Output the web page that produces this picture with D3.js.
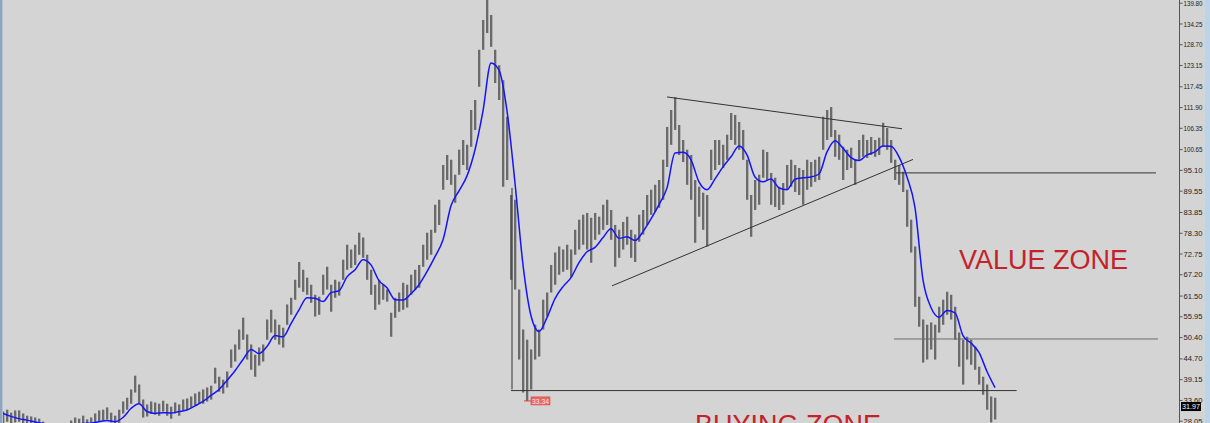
<!DOCTYPE html>
<html>
<head>
<meta charset="utf-8">
<script src="https://cdnjs.cloudflare.com/ajax/libs/d3/7.8.5/d3.min.js"></script>
<style>
  html, body { margin: 0; padding: 0; background: #d4d4d4; overflow: hidden; }
  svg { display: block; }
</style>
</head>
<body>
<svg id="chart" width="1210" height="423"></svg>
<script>
// --- weekly bars (high / low) ---
const highs = [
  30.5, 31.0, 30.2, 30.8, 30.8, 30.0, 29.4, 29.2, 28.9, 28.6,
  27.8, 27.3, 27.0, 26.8, 26.8, 27.0, 27.3, 28.1, 28.9, 28.6,
  29.4, 28.4, 28.9, 30.0, 30.8, 31.0, 31.6, 30.2, 29.4, 31.0,
  33.2, 34.2, 36.4, 40.1, 37.7, 33.7, 32.4, 33.2, 32.9, 32.6,
  33.4, 32.6, 31.8, 32.9, 32.4, 33.7, 34.0, 34.5, 35.3, 35.8,
  36.4, 36.9, 37.4, 42.2, 39.8, 39.0, 41.2, 47.1, 48.4, 52.4,
  55.6, 51.1, 48.4, 45.7, 47.6, 48.4, 55.1, 57.7, 55.1, 53.7,
  52.9, 59.1, 60.9, 65.7, 70.5, 68.4, 66.3, 64.4, 61.7, 61.2,
  67.1, 69.2, 64.4, 65.7, 65.2, 71.1, 75.1, 73.8, 75.1, 78.3,
  77.0, 72.4, 68.4, 64.4, 65.7, 64.4, 63.1, 56.9, 60.9, 62.3,
  64.9, 64.4, 67.1, 68.4, 69.7, 75.1, 78.3, 79.1, 85.8, 87.1,
  96.4, 99.1, 97.8, 93.8, 100.5, 103.1, 101.8, 111.1, 113.8, 127.2,
  135.2, 147.3, 136.5, 127.2, 123.1, 119.1, 109.3, 88.4, 87.1, 63.1,
  52.4, 49.7, 47.1, 53.7, 52.4, 60.4, 62.3, 69.7, 73.0, 74.6,
  73.8, 75.1, 73.8, 79.1, 81.8, 83.1, 83.6, 82.3, 83.6, 82.6,
  85.8, 87.1, 84.4, 80.4, 79.1, 81.2, 82.6, 79.1, 77.8, 83.1,
  84.4, 88.4, 89.8, 91.1, 92.4, 97.8, 106.6, 111.1, 114.6, 107.1,
  103.1, 100.5, 99.1, 92.4, 90.6, 89.0, 88.4, 100.5, 103.1, 103.1,
  101.8, 104.5, 110.3, 109.8, 107.9, 105.8, 97.8, 88.4, 92.4, 93.8,
  100.5, 99.9, 94.3, 93.0, 90.6, 91.6, 96.4, 97.8, 96.4, 95.6,
  95.1, 97.8, 97.2, 97.8, 98.6, 109.3, 111.1, 111.9, 105.8, 104.5,
  101.3, 100.5, 101.0, 97.8, 103.1, 104.5, 103.1, 103.9, 103.1, 103.7,
  107.7, 106.3, 103.1, 97.8, 96.4, 94.6, 89.8, 81.8, 74.6, 61.2,
  55.1, 53.7, 54.3, 53.7, 58.5, 60.4, 62.5, 61.7, 58.5, 51.6,
  49.7, 50.5, 49.7, 47.9, 42.5, 39.8, 37.7, 34.5, 34.2
];
const lows = [
  27.3, 27.8, 27.0, 27.6, 27.8, 27.0, 26.5, 26.2, 25.7, 25.7,
  25.2, 24.6, 24.4, 24.1, 24.1, 24.4, 24.6, 25.4, 26.2, 26.0,
  26.8, 25.7, 26.2, 27.3, 27.8, 28.1, 28.4, 27.6, 26.8, 27.3,
  30.0, 31.0, 32.6, 35.6, 32.6, 28.9, 29.2, 30.0, 29.7, 29.4,
  30.5, 29.4, 28.6, 30.0, 29.4, 30.8, 31.0, 31.6, 32.1, 32.6,
  32.6, 33.2, 33.7, 38.0, 35.8, 35.3, 36.9, 42.2, 43.9, 47.1,
  49.7, 44.4, 41.7, 39.8, 42.8, 43.9, 49.7, 51.6, 49.7, 48.4,
  47.6, 53.7, 56.4, 60.4, 63.6, 62.5, 61.7, 59.6, 55.9, 56.4,
  61.7, 63.1, 57.2, 60.9, 61.5, 65.7, 68.4, 68.9, 69.7, 72.4,
  71.6, 65.7, 61.7, 57.7, 59.1, 60.4, 59.9, 50.5, 55.6, 57.2,
  57.7, 58.3, 61.7, 63.1, 63.6, 69.2, 71.1, 72.4, 78.3, 80.4,
  89.8, 92.4, 91.1, 86.3, 93.8, 96.4, 95.1, 101.3, 105.8, 117.3,
  127.2, 131.7, 128.0, 118.3, 113.8, 90.6, 92.4, 65.7, 63.1, 44.4,
  35.6, 33.34, 36.4, 44.4, 45.2, 52.4, 55.9, 62.3, 64.4, 67.1,
  67.9, 68.4, 66.5, 72.4, 73.8, 75.1, 73.8, 70.3, 76.4, 77.8,
  79.1, 80.4, 76.4, 69.2, 71.6, 73.8, 75.1, 71.6, 70.5, 75.9,
  77.8, 80.4, 83.1, 83.9, 85.0, 87.1, 95.9, 101.8, 105.8, 99.1,
  97.2, 91.1, 87.1, 75.6, 82.6, 79.1, 74.6, 92.4, 95.1, 96.4,
  95.6, 97.8, 103.1, 101.8, 100.5, 97.8, 87.1, 77.2, 84.4, 85.8,
  93.0, 92.4, 85.8, 85.2, 84.4, 85.8, 89.8, 90.6, 89.2, 88.4,
  85.8, 89.8, 90.6, 91.9, 92.4, 100.5, 103.1, 103.9, 98.6, 97.8,
  92.4, 95.1, 95.6, 91.1, 97.8, 98.6, 98.3, 99.1, 98.6, 99.1,
  101.3, 100.5, 97.0, 92.4, 91.1, 89.2, 79.9, 73.0, 58.5, 53.2,
  43.6, 44.4, 47.1, 44.4, 51.6, 53.7, 56.4, 55.1, 49.7, 42.5,
  37.7, 44.4, 43.0, 41.7, 37.7, 35.0, 31.0, 27.6, 28.4
];

// moving average, one reading every 2nd bar
const ma = [
  30.0, 29.2, 28.6, 28.2, 27.7, 27.3, 26.9, 26.8, 26.8, 27.0,
  27.3, 27.4, 27.8, 28.1, 27.8, 28.9, 31.3, 32.6, 30.5, 30.0,
  30.2, 30.1, 30.5, 30.9, 32.0, 33.2, 34.8, 36.4, 38.8, 41.4,
  44.4, 47.1, 46.0, 47.9, 50.8, 50.5, 54.0, 57.7, 60.9, 60.8,
  59.9, 62.3, 62.8, 66.5, 68.4, 71.1, 69.7, 65.5, 63.6, 60.4,
  60.3, 62.0, 64.4, 67.9, 71.9, 76.4, 85.5, 89.5, 93.5, 100.5,
  110.9, 123.7, 121.8, 110.9, 91.6, 69.7, 56.1, 51.9, 55.6, 60.7,
  63.9, 66.3, 70.3, 73.2, 74.4, 77.0, 79.4, 76.8, 77.2, 76.2,
  78.6, 82.0, 85.8, 90.3, 99.6, 99.8, 97.8, 91.9, 89.8, 92.7,
  95.9, 98.6, 101.5, 99.1, 93.2, 91.9, 92.7, 90.3, 89.8, 92.6,
  93.0, 93.2, 94.0, 99.9, 102.9, 100.9, 98.4, 97.6, 99.1, 99.9,
  101.5, 101.4, 98.6, 93.2, 85.0, 65.7, 58.3, 55.7, 57.5, 56.9,
  50.8, 48.8, 46.3, 41.2, 36.9
];

// price axis
const tickVals = [139.80, 134.25, 128.70, 123.15, 117.45, 111.90, 106.35, 100.65,
  95.10, 89.55, 83.85, 78.30, 72.75, 67.20, 61.50, 55.95, 50.40, 44.70, 39.15, 33.60, 28.05];
const lastPrice = 31.97;
const lowBar = 131, lowPrice = 33.34;

// drawn objects: [bar0, price0, bar1, price1]
const trendLines = [
  [166, 114.6, 224.75, 106.1],
  [152.25, 64.1, 227.5, 97.9],
  [127, 36.1, 253.4, 36.1],
  [223.25, 94.3, 288.25, 94.3],
  [222.75, 49.9, 288.75, 49.9],
  [127.25, 90.3, 127.25, 36.4]
];
const zoneLabels = [
  { text: "VALUE ZONE", bar: 239, price: 68.6 },
  { text: "BUYING ZONE", bar: 173, price: 24.5 }
];

const W = 1210, H = 423, axisX = 1179.5;
const svg = d3.select("#chart");

svg.append("rect").attr("width", W).attr("height", H).attr("fill", "#d4d4d4");

const x = d3.scaleLinear().domain([0, highs.length - 1]).range([3, 995]);
const y = d3.scaleLinear().domain([28.05, 139.80]).range([420.7, 2.7]);

svg.append("clipPath").attr("id", "plot")
  .append("rect").attr("x", 3).attr("y", 0).attr("width", axisX - 3).attr("height", H);

const plot = svg.append("g").attr("clip-path", "url(#plot)");

// bars: a light grey halo under a thin dark core
function drawBars(color, width, opacity, dx) {
  plot.append("g")
    .selectAll("line")
    .data(highs)
    .join("line")
    .attr("x1", (d, i) => x(i) + dx)
    .attr("x2", (d, i) => x(i) + dx)
    .attr("y1", d => y(d))
    .attr("y2", (d, i) => y(lows[i]))
    .attr("stroke", color)
    .attr("stroke-width", width)
    .attr("stroke-opacity", opacity);
}
drawBars("#888", 3, 0.45, 0.5);
drawBars("#3c3c3c", 1.2, 1, 0);

// trend lines
plot.append("g")
  .selectAll("line")
  .data(trendLines)
  .join("line")
  .attr("x1", d => x(d[0]))
  .attr("y1", d => y(d[1]))
  .attr("x2", d => x(d[2]))
  .attr("y2", d => y(d[3]))
  .attr("stroke", (d, i) => (i === 4 ? "#6a6a6a" : "#333"))
  .attr("stroke-width", 1);

// moving average
const maLine = d3.line()
  .x((d, k) => x(k * 2))
  .y(d => y(d))
  .curve(d3.curveMonotoneX);
plot.append("path")
  .datum(ma)
  .attr("d", maLine)
  .attr("fill", "none")
  .attr("stroke", "#1414ff")
  .attr("stroke-width", 1.5);

// low price tag
const lx = x(lowBar), ly = y(lowPrice);
plot.append("line")
  .attr("x1", lx - 3).attr("x2", lx + 4)
  .attr("y1", ly).attr("y2", ly)
  .attr("stroke", "#e0403c");
plot.append("rect")
  .attr("x", lx + 4).attr("y", ly - 4)
  .attr("width", 19).attr("height", 8)
  .attr("fill", "#e46a66").attr("stroke", "#e0403c").attr("stroke-width", 0.6);
plot.append("text")
  .attr("x", lx + 5).attr("y", ly + 2.8)
  .attr("font-family", "Liberation Sans, Arial, sans-serif")
  .attr("font-size", 8)
  .attr("textLength", 17).attr("lengthAdjust", "spacingAndGlyphs")
  .attr("fill", "#ffe4e4")
  .text(d3.format(".2f")(lowPrice));

// zone labels
plot.append("g")
  .selectAll("text")
  .data(zoneLabels)
  .join("text")
  .attr("x", d => x(d.bar))
  .attr("y", d => y(d.price))
  .attr("font-family", "Liberation Sans, Arial, sans-serif")
  .attr("font-size", 27)
  .attr("fill", "#c3222a")
  .text(d => d.text);

// price axis
svg.append("line")
  .attr("x1", axisX).attr("x2", axisX)
  .attr("y1", 0).attr("y2", H)
  .attr("stroke", "#555");

const axis = svg.append("g")
  .attr("transform", `translate(${axisX},0)`)
  .call(d3.axisRight(y).tickValues(tickVals).tickSize(3).tickSizeOuter(0).tickFormat(d3.format(".2f")));
axis.select(".domain").remove();
axis.selectAll(".tick line").attr("stroke", "#555");
axis.selectAll(".tick text")
  .attr("x", 4)
  .attr("font-family", "Liberation Sans, Arial, sans-serif")
  .attr("font-size", 8)
  .attr("textLength", 19).attr("lengthAdjust", "spacingAndGlyphs")
  .attr("fill", "#222");

// last price box
const py = y(lastPrice);
svg.append("rect")
  .attr("x", axisX + 1.5).attr("y", py - 4)
  .attr("width", 20).attr("height", 9)
  .attr("fill", "#000");
svg.append("text")
  .attr("x", axisX + 2.5).attr("y", py + 3)
  .attr("font-family", "Liberation Sans, Arial, sans-serif")
  .attr("font-size", 8)
  .attr("textLength", 18).attr("lengthAdjust", "spacingAndGlyphs")
  .attr("fill", "#fff")
  .text(d3.format(".2f")(lastPrice));

// window borders
svg.append("rect").attr("x", 0).attr("y", 0).attr("width", 2).attr("height", H).attr("fill", "#8fa4bf");
svg.append("rect").attr("x", 2).attr("y", 0).attr("width", 1).attr("height", H).attr("fill", "#b4c3d4");
svg.append("rect").attr("x", 1205).attr("y", 0).attr("width", 5).attr("height", H).attr("fill", "#bcd3ec");
</script>
</body>
</html>
